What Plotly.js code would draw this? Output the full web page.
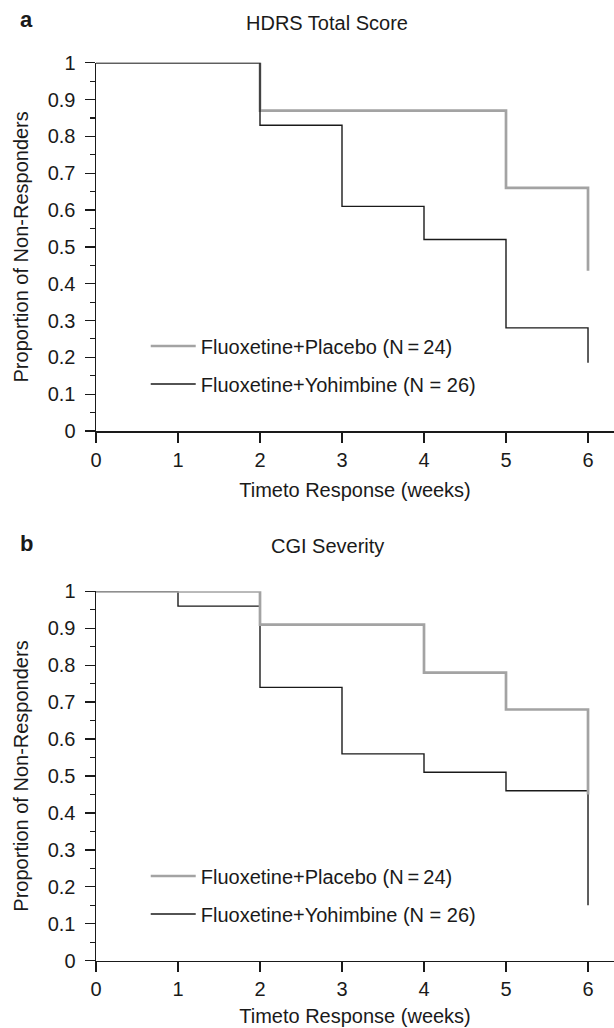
<!DOCTYPE html>
<html>
<head>
<meta charset="utf-8">
<script src="https://cdn.plot.ly/plotly-3.0.1.min.js"></script>
<style>html,body{margin:0;padding:0;background:#fff;}#chart{width:614px;height:1028px;}</style>
</head>
<body>
<div id="chart"></div>
<script>
// Panel a: HDRS Total Score (Kaplan-Meier step values)
const hdrsPlaceboWeeks = [0, 2, 5, 6];
const hdrsPlaceboProp  = [1, 0.87, 0.66, 0.435];
const hdrsYohimWeeks   = [0, 2, 3, 4, 5, 6];
const hdrsYohimProp    = [1, 0.83, 0.61, 0.52, 0.28, 0.185];

// Panel b: CGI Severity
const cgiPlaceboWeeks = [0, 2, 4, 5, 6];
const cgiPlaceboProp  = [1, 0.91, 0.78, 0.68, 0.45];
const cgiYohimWeeks   = [0, 1, 2, 3, 4, 5, 6];
const cgiYohimProp    = [1, 0.96, 0.74, 0.56, 0.51, 0.46, 0.15];

const placeboName = "Fluoxetine+Placebo (N\u2009=\u200924)";
const yohimName   = "Fluoxetine+Yohimbine (N = 26)";
const panelTitles = ["HDRS Total Score", "CGI Severity"];
const panelLetters = ["a", "b"];
const xTitle = "Timeto Response (weeks)";
const yTitle = "Proportion of Non-Responders";

const FONT = "Liberation Sans, Arial, Helvetica, sans-serif";
const FS = 20;
const GRAY = "#a3a3a3";
const BLACK = "#1a1a1a";

const traces = [
  {x: hdrsPlaceboWeeks, y: hdrsPlaceboProp, name: placeboName, type: "scatter", mode: "lines",
   line: {shape: "hv", color: GRAY, width: 2.7}, xaxis: "x", yaxis: "y", legend: "legend",
   cliponaxis: false, legendgroup: "p1", legendrank: 1},
  {x: hdrsYohimWeeks, y: hdrsYohimProp, name: yohimName, type: "scatter", mode: "lines",
   line: {shape: "hv", color: BLACK, width: 1.4}, xaxis: "x", yaxis: "y", legend: "legend",
   cliponaxis: false, legendgroup: "y1", legendrank: 2},
  {x: cgiYohimWeeks, y: cgiYohimProp, name: yohimName, type: "scatter", mode: "lines",
   line: {shape: "hv", color: BLACK, width: 1.4}, xaxis: "x2", yaxis: "y2", legend: "legend2",
   cliponaxis: false, legendgroup: "y2", legendrank: 2},
  {x: cgiPlaceboWeeks, y: cgiPlaceboProp, name: placeboName, type: "scatter", mode: "lines",
   line: {shape: "hv", color: GRAY, width: 2.7}, xaxis: "x2", yaxis: "y2", legend: "legend2",
   cliponaxis: false, legendgroup: "p2", legendrank: 1}
];

const H = 1028;
function py(pix) { return 1 - pix / H; }

function xaxisDef(anchor, standoff) {
  return {
    anchor: anchor, domain: [0, 1], range: [0, 6.317], dtick: 1, tick0: 0,
    ticks: "outside", ticklen: 10, tickwidth: 1.3, tickcolor: BLACK,
    showline: true, linecolor: BLACK, linewidth: 1.5, showgrid: false, zeroline: false,
    tickfont: {size: FS, color: BLACK, family: FONT},
    title: {text: xTitle, font: {size: FS, color: BLACK, family: FONT}, standoff: standoff},
    automargin: false, fixedrange: true
  };
}
function yaxisDef(anchor, dom) {
  return {
    anchor: anchor, domain: dom, range: [0, 1], dtick: 0.1, tick0: 0,
    ticks: "outside", ticklen: 10, tickwidth: 1.3, tickcolor: BLACK, ticklabelstandoff: 5,
    minor: {dtick: 0.05, ticks: "outside", ticklen: 5, tickwidth: 1.1, tickcolor: BLACK, showgrid: false},
    showline: true, linecolor: BLACK, linewidth: 1.5, showgrid: false, zeroline: false,
    tickfont: {size: FS, color: BLACK, family: FONT},
    title: {text: yTitle, font: {size: FS, color: BLACK, family: FONT}, standoff: 13},
    automargin: false, fixedrange: true
  };
}

const domA = [py(431), py(62.7)];
const domB = [py(960.7), py(591.3)];

const legendCommon = {
  font: {size: FS, color: BLACK, family: FONT}, bgcolor: "rgba(0,0,0,0)", borderwidth: 0,
  xanchor: "left", yanchor: "middle", itemwidth: 45, traceorder: "grouped", tracegroupgap: 9
};

const layout = {
  width: 614, height: 1028,
  margin: {l: 96, r: 0, t: 0, b: 0},
  paper_bgcolor: "#fff", plot_bgcolor: "#fff",
  font: {family: FONT, color: BLACK, size: FS},
  showlegend: true,
  xaxis: xaxisDef("y", 13),
  yaxis: yaxisDef("x", domA),
  xaxis2: xaxisDef("y2", 10),
  yaxis2: yaxisDef("x2", domB),
  legend: Object.assign({}, legendCommon, {x: 0.096, y: py(365)}),
  legend2: Object.assign({}, legendCommon, {x: 0.096, y: py(895)}),
  annotations: [
    {text: panelTitles[0], xref: "paper", yref: "paper", x: 0.446, y: py(23), showarrow: false,
     xanchor: "center", yanchor: "middle", font: {size: FS, color: BLACK, family: FONT}},
    {text: "<b>" + panelLetters[0] + "</b>", xref: "paper", yref: "paper", x: -0.135, y: py(19), showarrow: false,
     xanchor: "center", yanchor: "middle", font: {size: 22, color: BLACK, family: FONT}},
    {text: panelTitles[1], xref: "paper", yref: "paper", x: 0.446, y: py(546), showarrow: false,
     xanchor: "center", yanchor: "middle", font: {size: FS, color: BLACK, family: FONT}},
    {text: "<b>" + panelLetters[1] + "</b>", xref: "paper", yref: "paper", x: -0.135, y: py(543), showarrow: false,
     xanchor: "center", yanchor: "middle", font: {size: 22, color: BLACK, family: FONT}}
  ]
};

Plotly.newPlot("chart", traces, layout, {displayModeBar: false, staticPlot: true});
</script>
</body>
</html>
